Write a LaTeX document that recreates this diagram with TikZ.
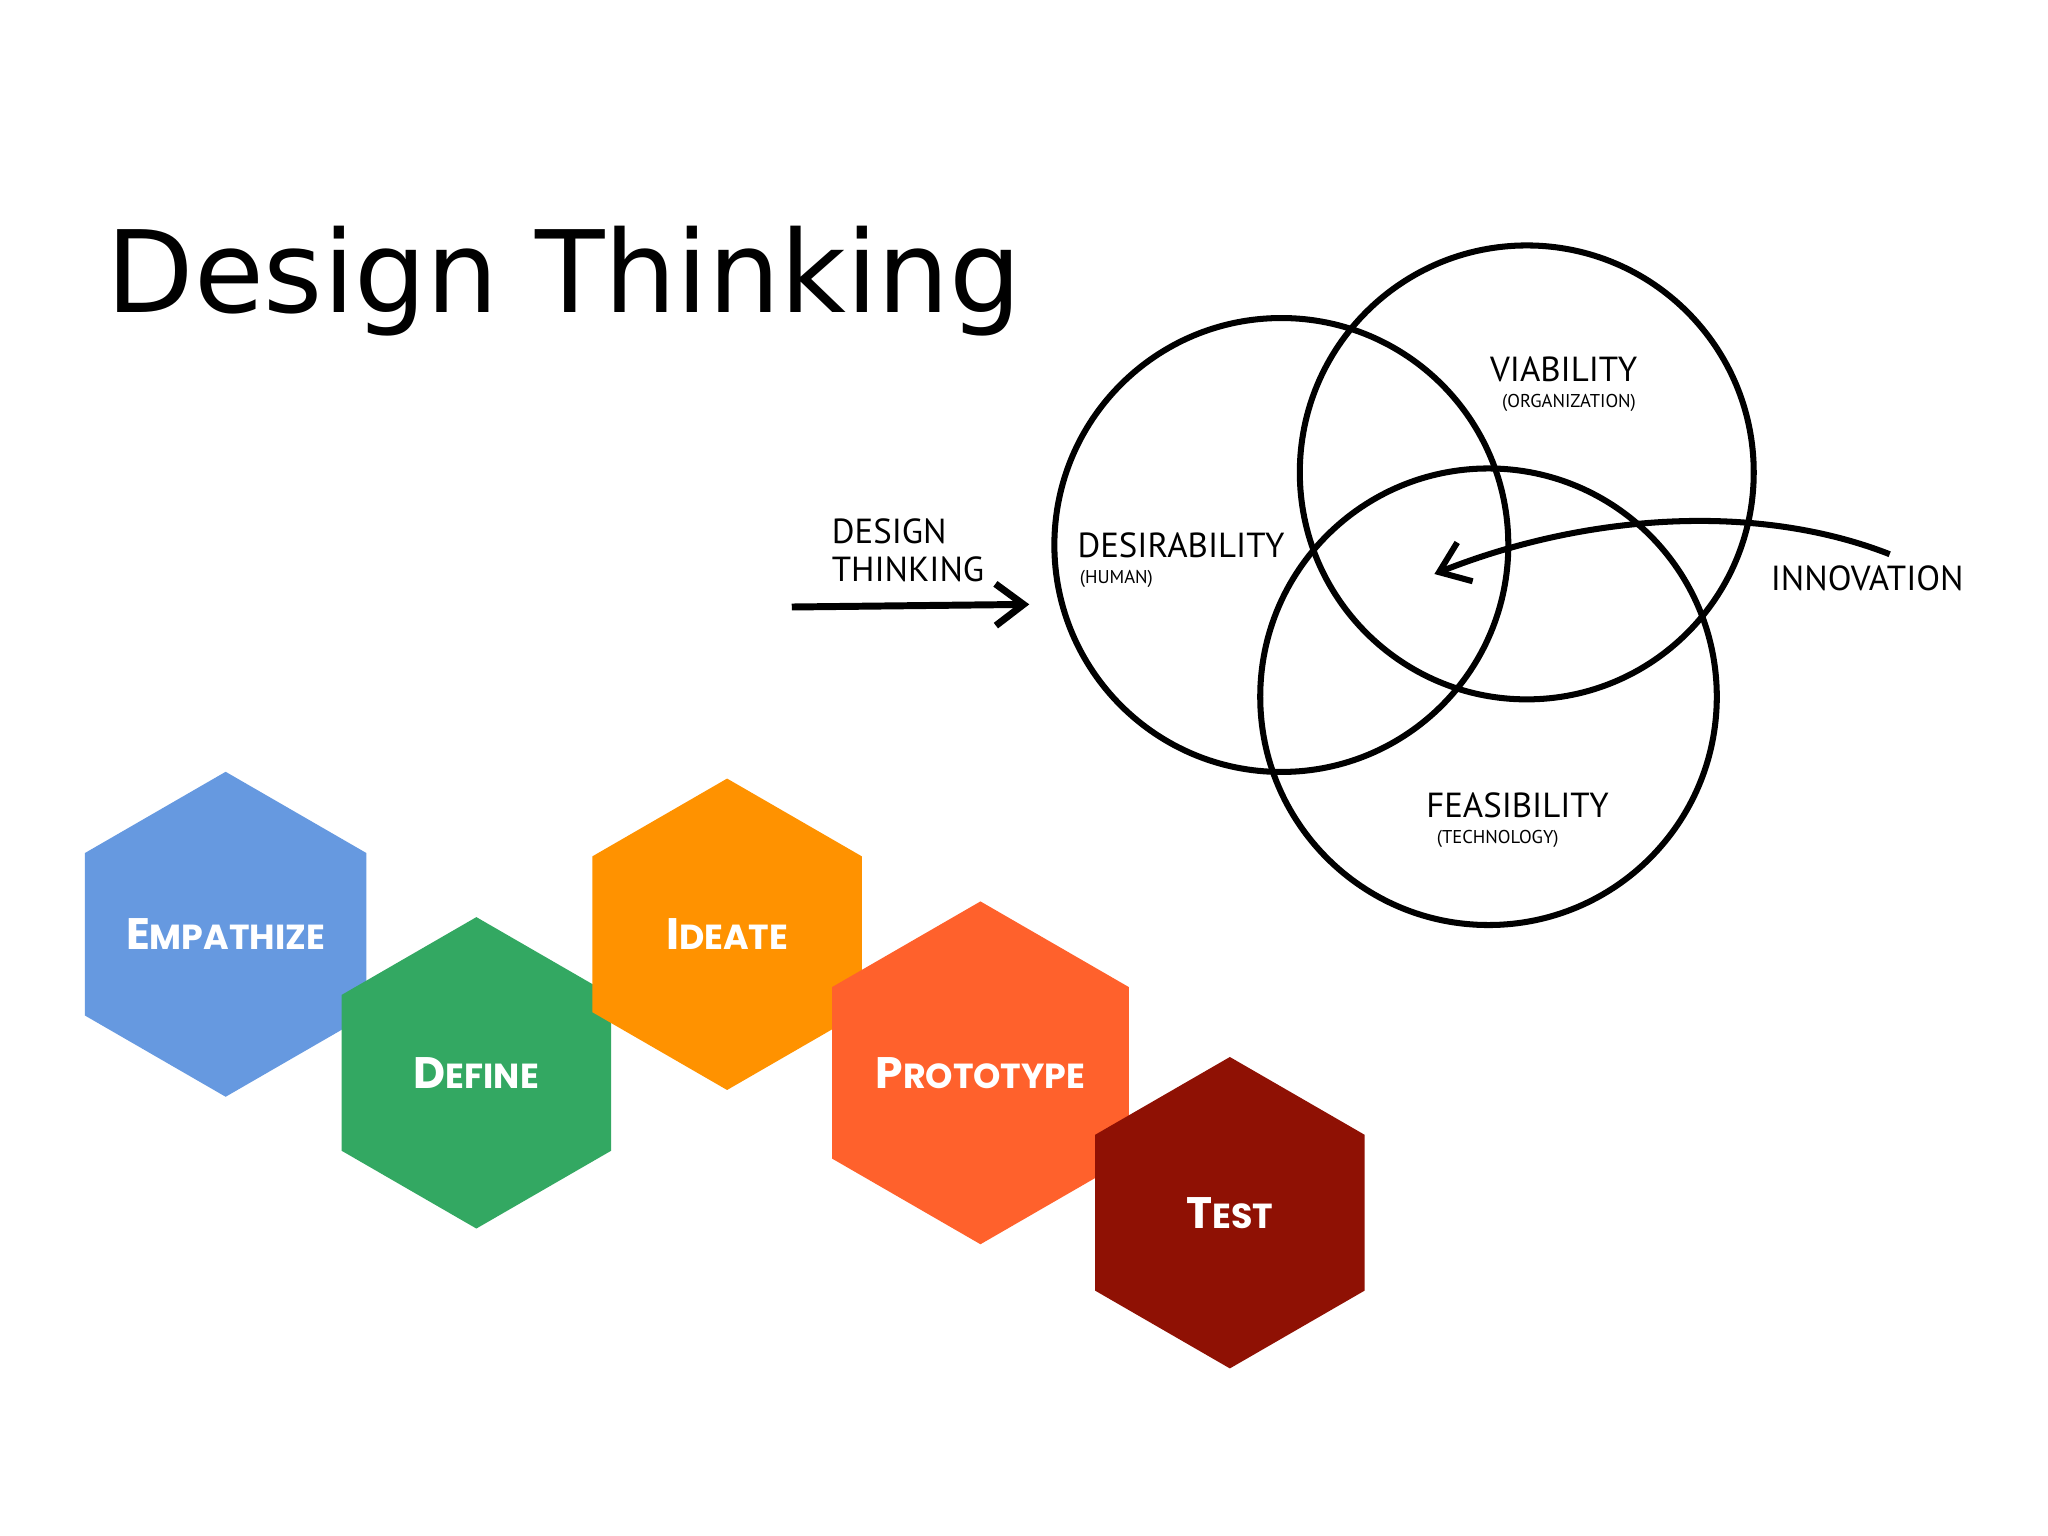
\documentclass[tikz,border=0pt]{standalone}
\usepackage{fontspec}
\setmainfont{DejaVu Sans}
\newfontfamily\hexfont{Poppins}
\newfontfamily\handfont{PT Sans}
\usetikzlibrary{shapes.geometric,arrows.meta}
\definecolor{cblue}{HTML}{6699E0}
\definecolor{cgreen}{HTML}{33A862}
\definecolor{corange}{HTML}{FF9200}
\definecolor{cred}{HTML}{FF612C}
\definecolor{cdark}{HTML}{8F1104}
\tikzset{
 hexa/.style={regular polygon,regular polygon sides=6,shape border rotate=30,minimum size=236*0.01cm,inner sep=0pt,draw=none,text=white,font=\hexfont\bfseries},
 venn/.style={draw,line width=1.3pt},
 hand/.style={font=\handfont\fontsize{7.5}{8}\selectfont},
 handsm/.style={font=\handfont\fontsize{4}{5}\selectfont},
}
\newcommand{\sct}[2]{{\fontsize{9.5}{10}\selectfont #1}{\fontsize{7.5}{8}\selectfont #2}}
\begin{document}
\begin{tikzpicture}[x=0.01cm,y=-0.01cm]
\useasboundingbox[fill=white] (0,0) rectangle (1552,1164);
\node[anchor=base west,inner sep=0pt,font=\fontsize{24.5}{26}\selectfont] (title) at (80,237) {Design Thinking};
% venn
\node[venn,circle,minimum size=344*0.01cm] (des) at (971,413) {};
\node[venn,circle,minimum size=344*0.01cm] (via) at (1157,358) {};
\node[venn,circle,minimum size=346*0.01cm] (fea) at (1128,528) {};
\node[hand] (tdes) at (895,413) {DESIRABILITY};
\node[handsm] (thum) at (846,439) {(HUMAN)};
\node[hand] (tvia) at (1185,280) {VIABILITY};
\node[handsm] (torg) at (1189,305) {(ORGANIZATION)};
\node[hand] (tfea) at (1150,610) {FEASIBILITY};
\node[handsm] (ttec) at (1135,636) {(TECHNOLOGY)};
\node[hand,align=left,anchor=west] (tdt) at (618,417) {DESIGN\\THINKING};
\coordinate (a1) at (600,460);
\coordinate (a2) at (780,458);
\draw[line width=1.5pt,-{Straight Barb[length=6pt,width=9pt]}] (a1) -- (a2);
\node[hand] (tinn) at (1415,438) {INNOVATION};
\coordinate (b1) at (1432,420);
\coordinate (b2) at (1087,435);
\draw[line width=1.3pt,-{Straight Barb[length=6pt,width=9pt]}] (b1) .. controls (1330,380) and (1200,390) .. (b2);
% hexagons
\node[hexa,fill=cblue] (emp) at (171,708) {\sct{E}{MPATHIZE}};
\node[hexa,fill=cgreen] (def) at (361,813) {\sct{D}{EFINE}};
\node[hexa,fill=corange] (ide) at (551,708) {\sct{I}{DEATE}};
\node[hexa,fill=cred] (pro) at (743,813) {\sct{P}{ROTOTYPE}};
\node[hexa,fill=cdark] (tes) at (932,919) {\sct{T}{EST}};
\end{tikzpicture}
\end{document}
